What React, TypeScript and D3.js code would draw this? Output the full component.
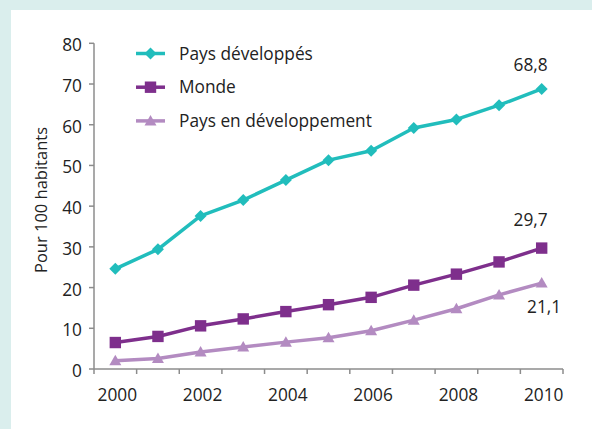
import React from "react";
import * as d3 from "d3";

const years = ["2000","2001","2002","2003","2004","2005","2006","2007","2008","2009","2010"];
const developed = [24.6, 29.4, 37.6, 41.5, 46.4, 51.3, 53.6, 59.2, 61.3, 64.8, 68.8];
const world = [6.5, 8.0, 10.6, 12.3, 14.1, 15.8, 17.6, 20.6, 23.3, 26.3, 29.7];
const developing = [2.0, 2.6, 4.2, 5.4, 6.6, 7.7, 9.4, 12.0, 14.8, 18.2, 21.1];
const yTicks = [0, 10, 20, 30, 40, 50, 60, 70, 80];
const xLabelYears = ["2000","2002","2004","2006","2008","2010"];
const seriesNames = ["Pays développés", "Monde", "Pays en développement"];

const W = 592, H = 429;
const FONT = "'Open Sans', sans-serif";
const FS = 17.3;
const colors = ["#21bdbc", "#7e2f8c", "#b38bc1"];
const shapes = ["diamond", "square", "triangle"];

function Marker({ shape, x, y, color }: { shape: string; x: number; y: number; color: string }) {
  if (shape === "diamond") {
    const s = 6;
    return <path d={`M${x},${y - s}L${x + s},${y}L${x},${y + s}L${x - s},${y}Z`} fill={color} />;
  }
  if (shape === "square") {
    const s = 5.7;
    return <rect x={x - s} y={y - s} width={2 * s} height={2 * s} fill={color} />;
  }
  const s = 6;
  return <path d={`M${x},${y - 6}L${x + s},${y + 4.5}L${x - s},${y + 4.5}Z`} fill={color} />;
}

export default function App() {
  const x0 = 94, x1 = 563;
  const x = d3.scaleBand().domain(years).range([x0, x1]);
  const y = d3.scaleLinear().domain([0, 80]).range([369, 43.3]);
  const cx = (yr: string) => (x(yr) as number) + x.bandwidth() / 2;
  const line = d3.line<number>().x((_, i) => cx(years[i])).y((d) => y(d));
  const data = [developed, world, developing];
  const labels = [
    { v: developed[10], dx: -11, dy: -24 },
    { v: world[10], dx: -11, dy: -28.5 },
    { v: developing[10], dx: 2.5, dy: 23.5 },
  ];
  const fmt = (v: number) => v.toFixed(1).replace(".", ",");

  return (
    <svg width={W} height={H} style={{ position: "absolute", left: 0, top: 0 }}>
      <rect x={0} y={0} width={W} height={H} fill="#daeeed" />
      <rect x={11} y={10} width={W - 11} height={H - 10} fill="#ffffff" />
      {/* axes */}
      <line x1={x0} x2={x0} y1={y(80)} y2={y(0)} stroke="#8c8c8c" strokeWidth={1.5} />
      <line x1={x0} x2={x1} y1={y(0)} y2={y(0)} stroke="#8c8c8c" strokeWidth={1.5} />
      {yTicks.map((t) => (
        <g key={t}>
          <line x1={x0 - 5} x2={x0} y1={y(t)} y2={y(t)} stroke="#8c8c8c" strokeWidth={1.5} />
          <text x={x0 - 12} y={y(t) + 2} dy="0.35em" textAnchor="end" fontFamily={FONT} fontSize={FS} fill="#222">{t}</text>
        </g>
      ))}
      {[...years, "end"].map((yr, i) => {
        const xx = x0 + i * x.bandwidth();
        return <line key={yr} x1={xx} x2={xx} y1={y(0)} y2={y(0) + 5} stroke="#8c8c8c" strokeWidth={1.5} />;
      })}
      {xLabelYears.map((yr) => (
        <text key={yr} x={cx(yr) + 2} y={395} dy="0.35em" textAnchor="middle" fontFamily={FONT} fontSize={FS} fill="#222">{yr}</text>
      ))}
      <text transform={`translate(41,200) rotate(-90)`} textAnchor="middle" dy="0.35em" fontFamily={FONT} fontSize={16.5} fill="#222">Pour 100 habitants</text>
      {/* series */}
      {data.map((s, si) => (
        <g key={si}>
          <path d={line(s) as string} fill="none" stroke={colors[si]} strokeWidth={3.5} strokeLinejoin="round" />
          {s.map((v, i) => (
            <Marker key={i} shape={shapes[si]} x={cx(years[i])} y={y(v)} color={colors[si]} />
          ))}
        </g>
      ))}
      {labels.map((l, i) => (
        <text key={i} x={cx("2010") + l.dx} y={y(l.v) + l.dy} dy="0.35em" textAnchor="middle" fontFamily={FONT} fontSize={FS} fill="#222">{fmt(l.v)}</text>
      ))}
      {/* legend */}
      {seriesNames.map((n, i) => {
        const ly = 53.5 + i * 33.7;
        return (
          <g key={n}>
            <line x1={136} x2={165} y1={ly} y2={ly} stroke={colors[i]} strokeWidth={3.5} />
            <Marker shape={shapes[i]} x={150.5} y={ly} color={colors[i]} />
            <text x={179} y={ly} dy="0.35em" fontFamily={FONT} fontSize={FS} fill="#222">{n}</text>
          </g>
        );
      })}
    </svg>
  );
}
